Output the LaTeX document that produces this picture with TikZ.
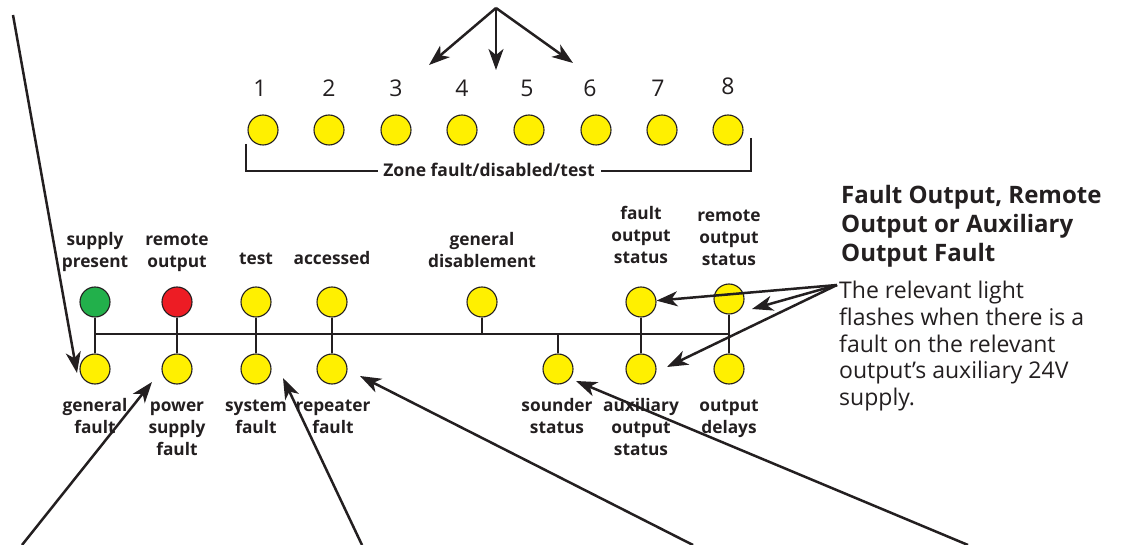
\documentclass[tikz,border=0pt]{standalone}
\usepackage{fontspec}
\setmainfont{Open Sans}
\usetikzlibrary{arrows.meta}
\definecolor{ledyellow}{RGB}{255,240,0}
\definecolor{ledgreen}{RGB}{34,176,75}
\definecolor{ledred}{RGB}{237,28,36}
\definecolor{ink}{RGB}{35,31,32}
\tikzset{
  led/.style={circle, draw=ink, line width=1.1pt, fill=ledyellow, minimum size=30pt, inner sep=0pt},
  lbl/.style={font=\bfseries\fontsize{17.3}{22}\selectfont, text=ink, align=center, inner sep=0pt},
  num/.style={font=\fontsize{23}{26}\selectfont, text=ink, inner sep=0pt, anchor=base},
  wire/.style={draw=ink, line width=1.1pt},
  arr/.style={draw=ink, line width=2.5pt, -{Stealth[length=21pt,width=15pt,inset=6pt]}},
}
\begin{document}
\begin{tikzpicture}[x=1pt,y=-1pt]
\useasboundingbox (0,0) rectangle (1127,545);
% ---- zone LEDs
\foreach \i/\x/\nx/\nb in {1/263/260/97,2/329/329/97,3/396/396/97,4/462/462/97,5/529/527/97,6/596/590/97,7/662/658/97,8/728/728/95}{
  \node[led] (z\i) at (\x,130) {};
  \node[num] (n\i) at (\nx,\nb) {\i};
}
\node[font=\bfseries\fontsize{17.5}{21}\selectfont, text=ink, inner sep=0pt, anchor=base] (zl) at (489,177) {Zone fault/disabled/test};
\coordinate (bl) at (246,144);
\coordinate (br) at (751,138);
\draw[wire] (bl) |- ([xshift=-5pt]zl.west |- 0,171);
\draw[wire] (br) |- ([xshift=6pt]zl.east |- 0,171);
% top arrows
\coordinate (ts) at (496,8);
\coordinate (t1) at (429,65);
\coordinate (t2) at (496,70);
\coordinate (t3) at (573,63);
\draw[arr] (ts) -- (t1);
\draw[arr] (ts) -- (t2);
\draw[arr] (ts) -- (t3);
% ---- status LEDs, upper row
\node[led, fill=ledgreen] (sp) at (95,302) {};
\node[led, fill=ledred] (ro) at (177,302) {};
\node[led] (te) at (256,302) {};
\node[led] (ac) at (332,302) {};
\node[led] (gd) at (482,302) {};
\node[led] (fos) at (641,302) {};
\node[led] (ros) at (729,299) {};
% lower row
\node[led] (gf) at (95,369) {};
\node[led] (psf) at (177,369) {};
\node[led] (sf) at (256,369) {};
\node[led] (rf) at (332,369) {};
\node[led] (ss) at (558,369) {};
\node[led] (aos) at (641,369) {};
\node[led] (od) at (729,369) {};
% bus
\coordinate (busl) at (95,334);
\coordinate (busr) at (729,334);
\draw[wire] (busl) -- (busr);
\foreach \n in {sp,ro,te,ac,gd,fos,ros}{ \draw[wire] (\n.south) -- (\n.south |- busl); }
\foreach \n in {gf,psf,sf,rf,ss,aos,od}{ \draw[wire] (\n.north) -- (\n.north |- busl); }
% labels above
\node[lbl, anchor=south] (lsp) at (95,274) {\strut supply\\\strut present};
\node[lbl, anchor=south] (lro) at (177,274) {\strut remote\\\strut output};
\node[lbl, anchor=south] (lte) at (256,271) {\strut test};
\node[lbl, anchor=south] (lac) at (332,271) {\strut accessed};
\node[lbl, anchor=south] (lgd) at (482,274) {\strut general\\\strut disablement};
\node[lbl, anchor=south] (lfos) at (641,270) {\strut fault\\\strut output\\\strut status};
\node[lbl, anchor=south] (lros) at (729,272) {\strut remote\\\strut output\\\strut status};
% labels below
\node[lbl, anchor=north] (lgf) at (95,396) {\strut general\\\strut fault};
\node[lbl, anchor=north] (lpsf) at (177,396) {\strut power\\\strut supply\\\strut fault};
\node[lbl, anchor=north] (lsf) at (256,396) {\strut system\\\strut fault};
\node[lbl, anchor=north] (lrf) at (333,396) {\strut repeater\\\strut fault};
\node[lbl, anchor=north] (lss) at (557,396) {\strut sounder\\\strut status};
\node[lbl, anchor=north] (laos) at (641,396) {\strut auxiliary\\\strut output\\\strut status};
\node[lbl, anchor=north] (lod) at (729,396) {\strut output\\\strut delays};
% right-hand text
\node[font=\bfseries\fontsize{24}{29}\selectfont, text=ink, align=left, inner sep=0pt, anchor=north west] (head) at (841,183) {\strut Fault Output, Remote\\\strut Output or Auxiliary\\\strut Output Fault};
\node[font=\fontsize{23}{26.7}\selectfont, text=ink, align=left, inner sep=0pt, anchor=north west] (body) at (839,280) {\strut The relevant light\\\strut flashes when there is a\\\strut fault on the relevant\\\strut output’s auxiliary 24V\\\strut supply.};
% right arrows
\coordinate (rs) at (837,285);
\coordinate (rt2) at (752,309);
\coordinate (rt3) at (667,367);
\draw[arr] (rs) -- (fos);
\draw[arr] (rs) -- (rt2);
\draw[arr] (rs) -- (rt3);
% lower arrows
\coordinate (a1s) at (13,15);
\coordinate (a1t) at (77,373);
\coordinate (a2s) at (22,545);
\coordinate (a2t) at (152,382);
\coordinate (a3s) at (362,545);
\coordinate (a3t) at (283,378);
\coordinate (a4s) at (693,545);
\coordinate (a4t) at (360,376);
\coordinate (a5s) at (968,545);
\coordinate (a5t) at (576,381);
\draw[arr] (a1s) -- (a1t);
\draw[arr] (a2s) -- (a2t);
\draw[arr] (a3s) -- (a3t);
\draw[arr] (a4s) -- (a4t);
\draw[arr] (a5s) -- (a5t);
\end{tikzpicture}
\end{document}
